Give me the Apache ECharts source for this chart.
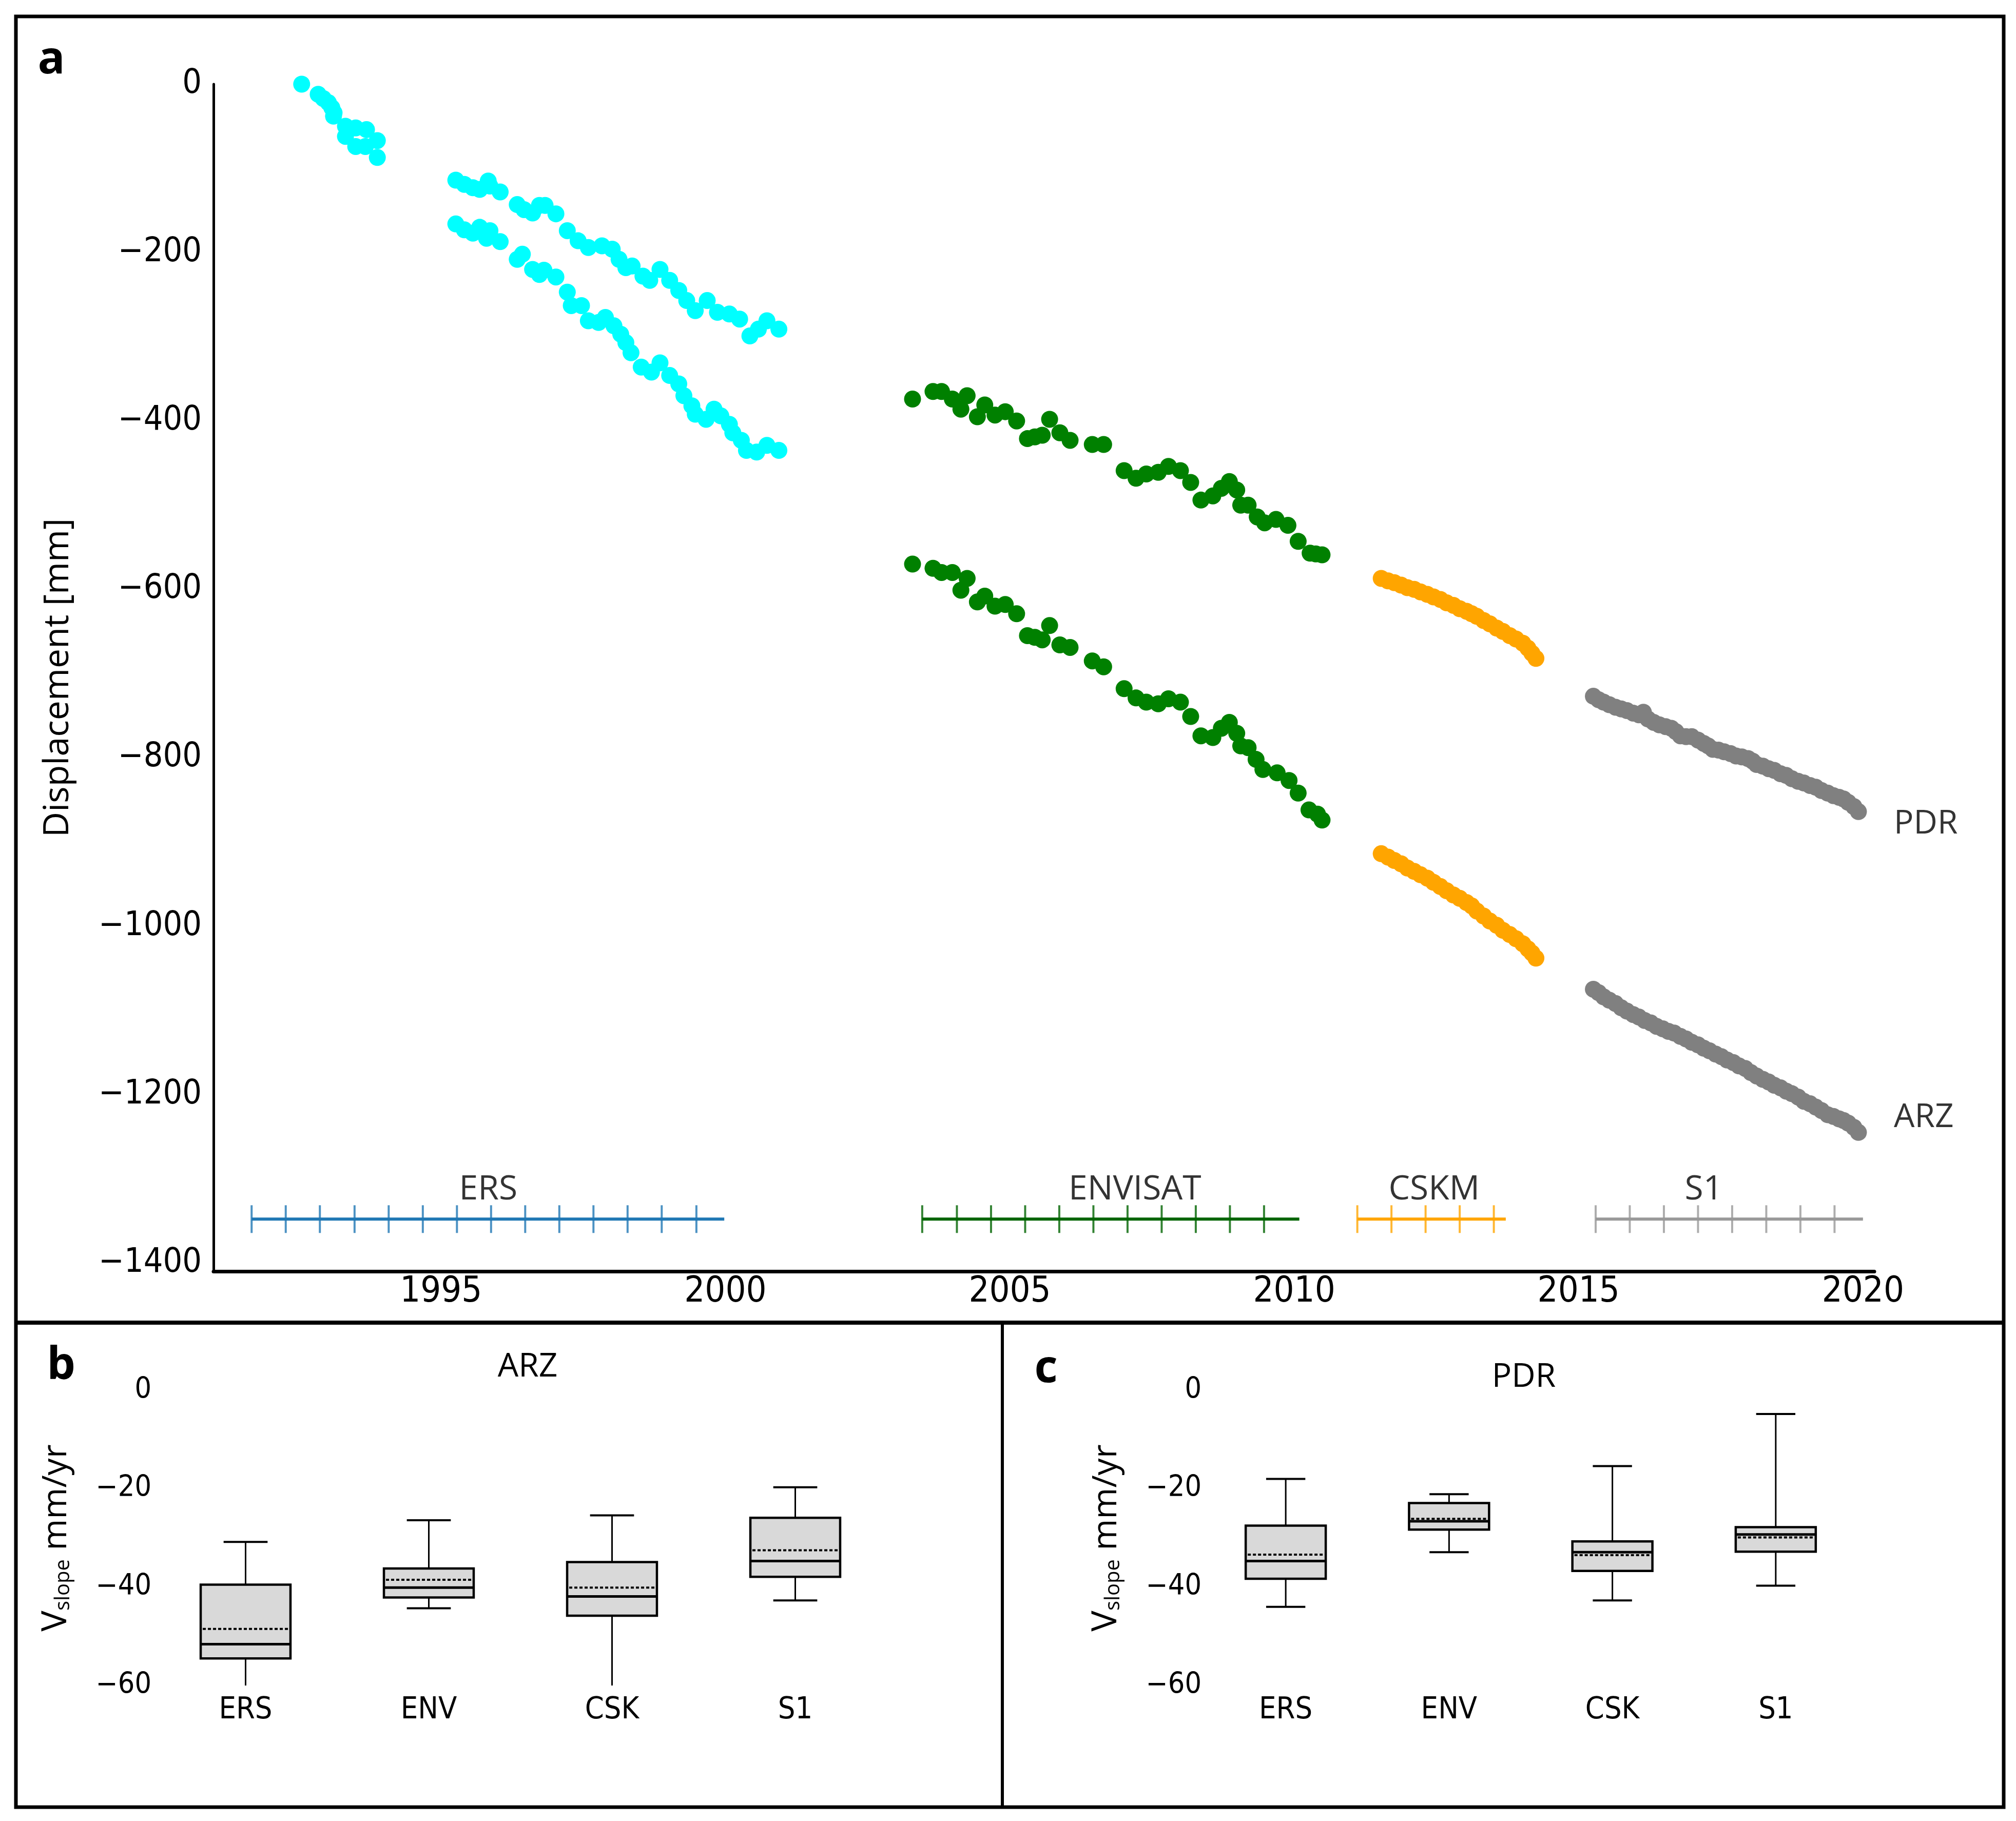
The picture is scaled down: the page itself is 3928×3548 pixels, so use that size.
<!DOCTYPE html>
<html>
<head>
<meta charset="utf-8">
<script src="https://cdn.jsdelivr.net/npm/echarts@6/dist/echarts.min.js"></script>
<style>
  html, body { margin: 0; padding: 0; background: #fff; }
  #chart { width: 3928px; height: 3548px; }
</style>
</head>
<body>
<div id="chart"></div>
<script>
// ---- panel a : displacement time series [year, mm] ----
var ersEarly = [[1992.55,0],[1992.84,-12],[1992.93,-17],[1993.02,-22],[1993.08,-28],[1993.12,-34],[1993.11,-38],
  [1993.32,-50],[1993.32,-62],[1993.50,-52],[1993.50,-74],[1993.69,-54],[1993.67,-74],[1993.88,-67],[1993.88,-87]];
var ersPdr = [[1995.26,-114],[1995.41,-119],[1995.56,-123],[1995.68,-125],[1995.83,-115],[1995.86,-121],[1996.04,-128],
  [1996.34,-143],[1996.46,-149],[1996.61,-153],[1996.73,-144],[1996.83,-144],[1997.02,-154],[1997.22,-174],[1997.41,-186],
  [1997.59,-194],[1997.83,-192],[1998.01,-196],[1998.13,-208],[1998.25,-218],[1998.36,-216],[1998.55,-228],[1998.67,-233],
  [1998.85,-220],[1999.02,-233],[1999.18,-245],[1999.32,-257],[1999.47,-269],[1999.68,-257],[1999.86,-271],[2000.07,-273],
  [2000.25,-279],[2000.43,-299],[2000.58,-291],[2000.73,-281],[2000.94,-291]];
var ersArz = [[1995.26,-166],[1995.41,-173],[1995.56,-177],[1995.68,-170],[1995.80,-183],[1995.86,-174],[1996.04,-187],
  [1996.34,-208],[1996.43,-202],[1996.61,-220],[1996.73,-226],[1996.81,-221],[1997.02,-229],[1997.22,-247],[1997.29,-263],
  [1997.47,-263],[1997.59,-281],[1997.77,-283],[1997.89,-277],[1998.04,-287],[1998.16,-297],[1998.25,-307],[1998.34,-319],
  [1998.52,-336],[1998.70,-342],[1998.85,-331],[1999.02,-346],[1999.18,-356],[1999.27,-370],[1999.41,-382],[1999.47,-392],
  [1999.66,-398],[1999.80,-386],[1999.92,-394],[2000.07,-404],[2000.13,-414],[2000.28,-423],[2000.37,-435],[2000.55,-437],
  [2000.73,-429],[2000.94,-435]];
var envPdr = [[2003.29,-374],[2003.65,-365],[2003.80,-365],[2003.99,-374],[2004.14,-386],[2004.25,-370],[2004.43,-395],
  [2004.56,-381],[2004.74,-393],[2004.92,-389],[2005.12,-400],[2005.31,-421],[2005.44,-419],[2005.57,-417],[2005.70,-398],
  [2005.88,-414],[2006.06,-423],[2006.45,-428],[2006.65,-428],[2007.01,-459],[2007.22,-468],[2007.40,-463],[2007.61,-461],
  [2007.79,-454],[2008.00,-459],[2008.18,-473],[2008.36,-494],[2008.57,-489],[2008.72,-480],[2008.86,-472],[2008.99,-482],
  [2009.06,-500],[2009.19,-500],[2009.35,-514],[2009.48,-521],[2009.68,-517],[2009.89,-524],[2010.07,-543],[2010.28,-557],
  [2010.38,-558],[2010.49,-559]];
var envArz = [[2003.29,-570],[2003.65,-575],[2003.80,-580],[2003.99,-580],[2004.14,-601],[2004.25,-587],[2004.43,-615],
  [2004.56,-608],[2004.74,-620],[2004.92,-618],[2005.12,-629],[2005.31,-655],[2005.44,-657],[2005.57,-660],[2005.70,-643],
  [2005.88,-666],[2006.06,-669],[2006.45,-685],[2006.65,-692],[2007.01,-718],[2007.22,-729],[2007.40,-734],[2007.61,-736],
  [2007.79,-730],[2008.00,-734],[2008.18,-751],[2008.36,-774],[2008.57,-776],[2008.72,-765],[2008.86,-758],[2008.99,-771],
  [2009.06,-786],[2009.19,-788],[2009.33,-802],[2009.45,-814],[2009.70,-818],[2009.91,-827],[2010.07,-842],[2010.26,-862],
  [2010.41,-867],[2010.49,-874]];
var cskPdr = [[2011.53,-587],[2011.65,-590],[2011.76,-592],[2011.88,-595],[2011.99,-598],[2012.11,-600],[2012.22,-603],
  [2012.34,-606],[2012.45,-609],[2012.57,-612],[2012.68,-616],[2012.80,-619],[2012.91,-623],[2013.03,-626],[2013.12,-629],
  [2013.21,-632],[2013.33,-637],[2013.44,-641],[2013.56,-646],[2013.67,-650],[2013.79,-655],[2013.90,-659],[2014.02,-664],
  [2014.11,-670],[2014.18,-676],[2014.25,-682]];
var cskArz = [[2011.53,-914],[2011.65,-918],[2011.76,-922],[2011.88,-926],[2011.99,-931],[2012.11,-935],[2012.22,-939],
  [2012.34,-943],[2012.45,-948],[2012.57,-953],[2012.68,-958],[2012.80,-963],[2012.91,-967],[2013.03,-972],[2013.12,-976],
  [2013.21,-982],[2013.33,-988],[2013.44,-994],[2013.56,-999],[2013.67,-1005],[2013.79,-1010],[2013.90,-1015],[2014.02,-1021],
  [2014.11,-1027],[2014.18,-1032],[2014.25,-1038]];
var s1Pdr = [[2015.26,-727],[2015.35,-731],[2015.44,-734],[2015.54,-737],[2015.65,-740],[2015.75,-742],[2015.85,-744],
  [2015.96,-747],[2016.06,-749],[2016.14,-746],[2016.22,-754],[2016.32,-758],[2016.42,-761],[2016.53,-763],[2016.63,-765],
  [2016.71,-769],[2016.79,-774],[2016.89,-775],[2016.99,-775],[2017.10,-779],[2017.20,-783],[2017.28,-786],[2017.36,-790],
  [2017.46,-791],[2017.56,-793],[2017.67,-795],[2017.77,-798],[2017.87,-799],[2017.98,-801],[2018.06,-804],[2018.13,-808],
  [2018.24,-810],[2018.34,-813],[2018.44,-815],[2018.55,-819],[2018.65,-821],[2018.75,-825],[2018.86,-828],[2018.96,-830],
  [2019.07,-833],[2019.17,-835],[2019.27,-839],[2019.38,-842],[2019.48,-845],[2019.58,-847],[2019.66,-849],[2019.74,-853],
  [2019.84,-858],[2019.92,-864]];
var s1Arz = [[2015.26,-1075],[2015.35,-1079],[2015.44,-1084],[2015.54,-1088],[2015.65,-1092],[2015.75,-1097],[2015.85,-1101],
  [2015.96,-1105],[2016.06,-1108],[2016.16,-1112],[2016.27,-1115],[2016.37,-1119],[2016.48,-1122],[2016.58,-1125],
  [2016.68,-1127],[2016.79,-1131],[2016.89,-1134],[2016.99,-1138],[2017.10,-1141],[2017.20,-1145],[2017.30,-1148],
  [2017.41,-1152],[2017.51,-1155],[2017.61,-1159],[2017.72,-1162],[2017.82,-1166],[2017.93,-1169],[2018.03,-1174],
  [2018.13,-1178],[2018.24,-1182],[2018.34,-1185],[2018.44,-1189],[2018.55,-1192],[2018.65,-1196],[2018.75,-1199],
  [2018.86,-1203],[2018.96,-1208],[2019.07,-1211],[2019.17,-1215],[2019.27,-1219],[2019.38,-1224],[2019.48,-1226],
  [2019.58,-1229],[2019.66,-1231],[2019.74,-1234],[2019.84,-1239],[2019.92,-1245]];

// acquisition periods, drawn as a bar with ticks near the bottom
var missions = ['ERS', 'ENVISAT', 'CSKM', 'S1'];
var missionSpan = [[1991.67, 1999.98], [2003.46, 2010.09], [2011.11, 2013.72], [2015.30, 2020.0]];
var missionTicks = [
  [1991.67,1992.27,1992.87,1993.48,1994.08,1994.68,1995.28,1995.88,1996.48,1997.08,1997.68,1998.28,1998.88,1999.49],
  [2003.46,2004.07,2004.67,2005.27,2005.87,2006.47,2007.07,2007.67,2008.27,2008.87,2009.47],
  [2011.11,2011.71,2012.31,2012.91,2013.51],
  [2015.30,2015.90,2016.50,2017.10,2017.70,2018.30,2018.90,2019.50]
];
var missionLabelX = [1995.83, 2007.2, 2012.46, 2017.2];
var missionLevel = -1348;
var missionLabelLevel = -1313;

var xTicks = [1995, 2000, 2005, 2010, 2015, 2020];
var yTicks = [0, -200, -400, -600, -800, -1000, -1200, -1400];

// ---- panels b, c : velocity box plots [idx, min, q1, median, q3, max, mean] ----
var boxCats = ['ERS', 'ENV', 'CSK', 'S1'];
var boxArz = [[0,-62,-54.5,-51.6,-39.5,-30.8,-48.5],[1,-44.3,-42.1,-40.1,-36.2,-26.4,-38.5],
  [2,-62,-45.8,-41.9,-34.9,-25.4,-40.1],[3,-42.7,-37.9,-34.7,-25.9,-19.7,-32.5]];
var boxPdr = [[0,-44.0,-38.3,-34.7,-27.5,-18.0,-33.4],[1,-32.9,-28.3,-26.6,-22.9,-21.1,-26.1],
  [2,-42.7,-36.7,-32.9,-30.7,-15.4,-33.5],[3,-39.7,-32.8,-29.3,-27.8,-4.8,-29.9]];

var numFont = "'DejaVu Sans Condensed', 'Liberation Sans Narrow', 'Roboto Condensed', sans-serif";
var txtFont = "'Open Sans', 'Noto Sans', sans-serif";
var minus = function (v) { return v < 0 ? '\u2212' + Math.abs(v) : String(v); };

var chart = echarts.init(document.getElementById('chart'));

function dots(data, color) {
  return {
    type: 'scatter', xAxisIndex: 0, yAxisIndex: 0, data: data,
    symbol: 'circle', symbolSize: 33, clip: true,
    itemStyle: { color: color, opacity: 1 }, silent: true
  };
}

function boxRenderer(params, api) {
  var idx = api.value(0);
  var band = api.size([1, 0])[0];
  var hw = band * 0.245, cw = band * 0.12;
  var cx = api.coord([idx, 0])[0];
  var y = function (i) { return api.coord([idx, api.value(i)])[1]; };
  var yMin = y(1), yQ1 = y(2), yMed = y(3), yQ3 = y(4), yMax = y(5), yMean = y(6);
  var ln = function (x1, y1, x2, y2, w, dash) {
    return { type: 'line', shape: { x1: x1, y1: y1, x2: x2, y2: y2 },
      style: { stroke: '#000', lineWidth: w, lineDash: dash || null } };
  };
  return {
    type: 'group',
    children: [
      ln(cx, yMax, cx, yQ3, 3), ln(cx, yQ1, cx, yMin, 3),
      ln(cx - cw, yMax, cx + cw, yMax, 4), ln(cx - cw, yMin, cx + cw, yMin, 4),
      { type: 'rect', shape: { x: cx - hw, y: yQ3, width: 2 * hw, height: yQ1 - yQ3 },
        style: { fill: '#d9d9d9', stroke: '#000', lineWidth: 4.5 } },
      ln(cx - hw, yMed, cx + hw, yMed, 5),
      ln(cx - hw + 4, yMean, cx + hw - 4, yMean, 4, [6, 4])
    ]
  };
}

var series = [
  dots(ersEarly, '#00ffff'), dots(ersPdr, '#00ffff'), dots(ersArz, '#00ffff'),
  dots(envPdr, '#008000'), dots(envArz, '#008000'),
  dots(cskPdr, '#ffa500'), dots(cskArz, '#ffa500'),
  dots(s1Pdr, '#808080'), dots(s1Arz, '#808080')
];

var missionColors = ['#1f77b4', '#006400', '#ffa500', '#999999'];
missions.forEach(function (m, i) {
  series.push({
    type: 'line', xAxisIndex: 0, yAxisIndex: 0, symbol: 'none', silent: true,
    data: [[missionSpan[i][0], missionLevel], [missionSpan[i][1], missionLevel]],
    lineStyle: { color: missionColors[i], width: 6 }
  });
  series.push({
    type: 'scatter', xAxisIndex: 0, yAxisIndex: 0, silent: true,
    data: missionTicks[i].map(function (t) { return [t, missionLevel]; }),
    symbol: 'rect', symbolSize: [4, 54], itemStyle: { color: missionColors[i] }
  });
});
series.push({
  type: 'scatter', xAxisIndex: 0, yAxisIndex: 0, silent: true, symbolSize: 0, clip: false,
  data: missions.map(function (m, i) { return { name: m, value: [missionLabelX[i], missionLabelLevel] }; }),
  label: { show: true, position: 'inside', formatter: '{b}', color: '#000', fontSize: 66, fontFamily: txtFont }
});
series.push({
  type: 'scatter', xAxisIndex: 0, yAxisIndex: 0, silent: true, symbolSize: 0, clip: false,
  data: [
    { name: 'PDR', value: s1Pdr[s1Pdr.length - 1], label: { offset: [0, 24] } },
    { name: 'ARZ', value: s1Arz[s1Arz.length - 1], label: { offset: [0, -29] } }
  ],
  label: { show: true, position: 'right', distance: 69, formatter: '{b}', color: '#000', fontSize: 64, fontFamily: txtFont }
});
series.push({
  type: 'custom', xAxisIndex: 1, yAxisIndex: 1, data: boxArz, clip: true, silent: true,
  encode: { x: 0, y: [1, 2, 3, 4, 5, 6] }, renderItem: boxRenderer
});
series.push({
  type: 'custom', xAxisIndex: 2, yAxisIndex: 2, data: boxPdr, clip: true, silent: true,
  encode: { x: 0, y: [1, 2, 3, 4, 5, 6] }, renderItem: boxRenderer
});

var vName = '{v|V}{s|slope}{t| mm/yr}';
var vRich = {
  v: { fontSize: 68, fontFamily: txtFont, color: '#000', lineHeight: 80 },
  s: { fontSize: 40, fontFamily: txtFont, color: '#000', lineHeight: 80, verticalAlign: 'bottom', padding: [0, 0, 6, 0] },
  t: { fontSize: 66, fontFamily: txtFont, color: '#000', lineHeight: 80 }
};

function boxX(grid) {
  return {
    type: 'category', gridIndex: grid, data: boxCats,
    axisLine: { show: false }, axisTick: { show: false }, splitLine: { show: false },
    axisLabel: { color: '#000', fontSize: 59, fontFamily: numFont, margin: 19 }
  };
}
function boxY(grid) {
  return {
    type: 'value', gridIndex: grid, min: -60, max: 0, interval: 20,
    axisLine: { show: false }, axisTick: { show: false }, splitLine: { show: false },
    axisLabel: { color: '#000', fontSize: 57, fontFamily: numFont, margin: 5, formatter: minus },
    name: vName, nameLocation: 'middle', nameRotate: 90, nameGap: 150,
    nameTextStyle: { rich: vRich }
  };
}

var option = {
  backgroundColor: '#fff',
  animation: false,
  grid: [
    { left: 416, top: 164, width: 3236, height: 2313, outerBoundsMode: 'none' },
    { left: 300, top: 2709, width: 1428, height: 575, outerBoundsMode: 'none' },
    { left: 2346, top: 2709, width: 1273, height: 575, outerBoundsMode: 'none' }
  ],
  xAxis: [
    {
      type: 'value', gridIndex: 0, min: 1991, max: 2020.2,
      axisLine: { show: true, onZero: false, lineStyle: { color: '#000', width: 7 } },
      axisTick: { show: false }, splitLine: { show: false },
      axisLabel: { customValues: xTicks, color: '#000', fontSize: 70, fontFamily: numFont, margin: 6,
        formatter: function (v) { return String(v); } }
    },
    boxX(1), boxX(2)
  ],
  yAxis: [
    {
      type: 'value', gridIndex: 0, min: -1410, max: 0,
      axisLine: { show: true, onZero: false, lineStyle: { color: '#000', width: 5 } },
      axisTick: { show: false }, splitLine: { show: false },
      axisLabel: { customValues: yTicks, color: '#000', fontSize: 66, fontFamily: numFont, margin: 23, formatter: minus },
      name: 'Displacement [mm]', nameLocation: 'middle', nameRotate: 90, nameGap: 268,
      nameTextStyle: { color: '#000', fontSize: 68, fontFamily: txtFont }
    },
    boxY(1), boxY(2)
  ],
  series: series,
  graphic: [
    { type: 'rect', silent: true, shape: { x: 31, y: 32, width: 3873, height: 3489 },
      style: { fill: 'none', stroke: '#000', lineWidth: 7 } },
    { type: 'line', silent: true, shape: { x1: 31, y1: 2577, x2: 3904, y2: 2577 },
      style: { stroke: '#000', lineWidth: 8 } },
    { type: 'line', silent: true, shape: { x1: 1953, y1: 2577, x2: 1953, y2: 3521 },
      style: { stroke: '#000', lineWidth: 6 } },
    { type: 'text', x: 100, y: 118, style: { text: 'a', fill: '#000', font: 'bold 88px ' + txtFont, align: 'center', verticalAlign: 'middle' } },
    { type: 'text', x: 119, y: 2662, style: { text: 'b', fill: '#000', font: 'bold 88px ' + txtFont, align: 'center', verticalAlign: 'middle' } },
    { type: 'text', x: 2038, y: 2668, style: { text: 'c', fill: '#000', font: 'bold 88px ' + txtFont, align: 'center', verticalAlign: 'middle' } },
    { type: 'text', x: 1028, y: 2664, style: { text: 'ARZ', fill: '#000', font: '64px ' + txtFont, align: 'center', verticalAlign: 'middle' } },
    { type: 'text', x: 2969, y: 2684, style: { text: 'PDR', fill: '#000', font: '64px ' + txtFont, align: 'center', verticalAlign: 'middle' } }
  ]
};

chart.setOption(option);
</script>
</body>
</html>
